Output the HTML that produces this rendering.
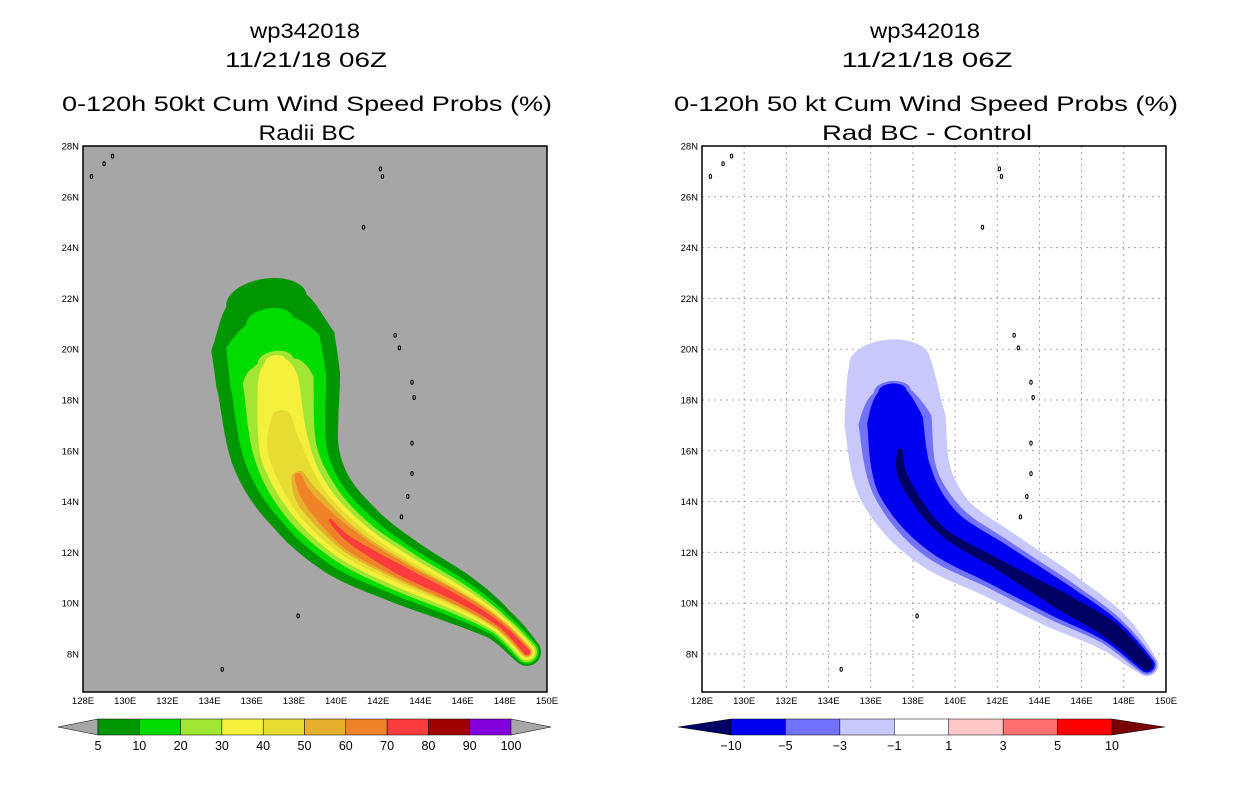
<!DOCTYPE html>
<html><head><meta charset="utf-8"><style>
body{margin:0;background:#fff}
svg{display:block;font-family:"Liberation Sans",sans-serif}
</style></head><body>
<svg id="s" width="1236" height="800" viewBox="0 0 1236 800"></svg>
<script>
// ---- data ----
const leftTrackLon=[136.7,137.0,137.25,137.58,138.76,140.66,143.03,145.88,147.77,149.05];
const leftTrackLat=[21.9,20.3,18.79,16.03,14.06,12.49,11.31,10.13,9.14,8.08];
const prob5=[1.6,2.45,2.45,2.15,1.8,1.6,1.3,1.0,0.67,0.55];
const prob10=[0,1.85,1.9,1.65,1.4,1.25,1.0,0.75,0.5,0.47];
const prob20=[0,0,1.4,1.25,1.15,1.0,0.83,0.6,0.4,0.4];
const prob30=[0,0,0.8,1.0,0.9,0.83,0.67,0.47,0.32,0.32];
const prob40=[0,0,0,0.7,0.7,0.67,0.5,0.35,0.24,0.24];
const prob50=[0,0,0,0,0.5,0.5,0.4,0.28,0.2,0.2];
const prob60=[0,0,0,0,0.25,0.4,0.32,0.24,0.16,0.16];
const prob70=[0,0,0,0,0,0.12,0.2,0.12,0.08,0.12];
const rightTrackLon=[136.9,137.15,137.6,139.3,142.1,145.0,147.35,149.1];
const rightTrackLat=[19.5,17.2,14.85,12.9,11.5,10.1,8.94,7.57];
const diff1=[1.6,2.0,1.9,1.6,1.35,1.15,0.85,0.45];
const diff3=[0,1.45,1.35,1.2,1.0,0.85,0.6,0.38];
const diff5=[0,1.1,1.15,0.95,0.82,0.68,0.48,0.3];
const diff10=[0,0,0.2,0.15,0.2,0.35,0.35,0.22];
const lonTicks=[128,130,132,134,136,138,140,142,144,146,148,150];
const latTicks=[8,10,12,14,16,18,20,22,24,26,28];
const leftBarLabels=["5","10","20","30","40","50","60","70","80","90","100"];
const rightBarLabels=["\u221210","\u22125","\u22123","\u22121","1","3","5","10"];

const NS="http://www.w3.org/2000/svg";
const svg=document.getElementById('s');
function mk(tag,attrs,parent){const e=document.createElementNS(NS,tag);for(const k in attrs)e.setAttribute(k,attrs[k]);(parent||svg).appendChild(e);return e;}
const PX=21.09, PY=25.4;
function X(lon,off){return off+83+(lon-128)*PX;}
function Y(lat){return 146+(28-lat)*PY;}

function ribbon(lons0,lats0,hw0,off,color,name,g){
  let a0=hw0.findIndex(v=>v>0), b0=hw0.length-1;
  while(b0>a0 && !(hw0[b0]>0)) b0--;
  let lons=lons0.slice(a0,b0+1), lats=lats0.slice(a0,b0+1), hw=hw0.slice(a0,b0+1);
  if(a0>0){ // taper start half-way toward previous track point
    lons.unshift((lons0[a0-1]+lons0[a0])/2);
    lats.unshift((lats0[a0-1]+lats0[a0])/2);
    hw.unshift(hw0[a0]*0.5);
  }
  const P=lons.map((l,i)=>[X(l,off),Y(lats[i])]);
  const n=P.length, S=10, pts=[], ws=[];
  for(let i=0;i<n-1;i++){
    const p0=P[Math.max(0,i-1)],p1=P[i],p2=P[i+1],p3=P[Math.min(n-1,i+2)];
    for(let k=0;k<S;k++){
      const t=k/S,t2=t*t,t3=t2*t;
      const f=(a,b,c,d)=>0.5*(2*b+(-a+c)*t+(2*a-5*b+4*c-d)*t2+(-a+3*b-3*c+d)*t3);
      pts.push([f(p0[0],p1[0],p2[0],p3[0]),f(p0[1],p1[1],p2[1],p3[1])]);
      ws.push((hw[i]*(1-t)+hw[i+1]*t)*PY);
    }
  }
  pts.push(P[n-1]);ws.push(hw[n-1]*PY);
  const L=[],R=[];
  for(let i=0;i<pts.length;i++){
    const a=pts[Math.max(0,i-1)],b=pts[Math.min(pts.length-1,i+1)];
    let dx=b[0]-a[0],dy=b[1]-a[1];const m=Math.hypot(dx,dy)||1;dx/=m;dy/=m;
    const w=ws[i];
    L.push([pts[i][0]-dy*w,pts[i][1]+dx*w]);R.push([pts[i][0]+dy*w,pts[i][1]-dx*w]);
  }
  const all=L.concat(R.reverse());
  const p=mk('polygon',{points:all.map(q=>q[0].toFixed(1)+','+q[1].toFixed(1)).join(' '),fill:color},g);
  
  
  const s0=pts[0], s1=pts[1];
  const ang=Math.atan2(s1[1]-s0[1],s1[0]-s0[0])*180/Math.PI;
  const e1=mk('ellipse',{cx:s0[0],cy:s0[1],rx:ws[0]*0.55,ry:ws[0],fill:color,transform:`rotate(${ang} ${s0[0]} ${s0[1]})`},g);
  
  const last=pts[pts.length-1];
  const e2=mk('circle',{cx:last[0],cy:last[1],r:ws[ws.length-1],fill:color},g);
  
}

function panel(off,bg,name){
  const g=mk('g',{});
  
  
  const r=mk('rect',{x:X(128,off),y:146,width:22*PX,height:546,fill:bg},g);
  
  
  const cp=mk('clipPath',{id:'clip'+off},g);
  mk('rect',{x:X(128,off),y:146,width:22*PX,height:546},cp);
  const inner=mk('g',{'clip-path':'url(#clip'+off+')'},g);
  
  
  return [g,inner];
}
function grid(g,off){
  lonTicks.slice(1,-1).forEach(l=>{const e=mk('line',{x1:X(l,off),x2:X(l,off),y1:146,y2:692,stroke:'#a8a8a8','stroke-dasharray':'2,4'},g);
    });
  latTicks.slice(0,-1).forEach(l=>{const e=mk('line',{x1:X(128,off),x2:X(150,off),y1:Y(l),y2:Y(l),stroke:'#a8a8a8','stroke-dasharray':'2,4'},g);
    });
}
function frameAxes(g,off){
  const f=mk('rect',{x:X(128,off),y:146,width:22*PX,height:546,fill:'none',stroke:'#000','stroke-width':1.5},g);
  
  latTicks.forEach(l=>{const t=mk('text',{x:X(128,off)-4,y:Y(l)+3.5,'font-size':9.5,'text-anchor':'end'},g);t.textContent=l+'N';
    });
  lonTicks.forEach(l=>{const t=mk('text',{x:X(l,off),y:704,'font-size':9.5,'text-anchor':'middle'},g);t.textContent=l+'E';
    });
}
function islands(g,off){
  const isl=[[142.8,20.55],[143.0,20.05],[143.6,18.7],[143.7,18.1],[143.6,16.3],[143.6,15.1],[143.4,14.2],[143.1,13.4],[138.2,9.5],[128.4,26.8],[129.0,27.3],[129.4,27.6],[142.1,27.1],[142.2,26.8],[141.3,24.8],[134.6,7.4]];
  isl.forEach(p=>{const e=mk('ellipse',{cx:X(p[0],off),cy:Y(p[1]),rx:1.2,ry:2,fill:'none',stroke:'#000','stroke-width':1},g);
    });
}

// left panel
const [gl,gli]=panel(0,'#a6a6a6','left-map');
[[prob5,'#009600','prob-5'],[prob10,'#00dc00','prob-10'],[prob20,'#a0e632','prob-20'],[prob30,'#f5f03c','prob-30'],[prob40,'#e6dc32','prob-40'],[prob50,'#e6af2d','prob-50'],[prob60,'#f08228','prob-60'],[prob70,'#fa3c3c','prob-70']]
 .forEach(d=>ribbon(leftTrackLon,leftTrackLat,d[0],0,d[1],d[2],gli));
islands(gli,0);frameAxes(gl,0);

// right panel
const [gr,gri]=panel(619,'#ffffff','right-map');
grid(gri,619);
[[diff1,'#c8c8fa','diff-minus1'],[diff3,'#7272ff','diff-minus3'],[diff5,'#0000f0','diff-minus5'],[diff10,'#000064','diff-minus10']]
 .forEach(d=>ribbon(rightTrackLon,rightTrackLat,d[0],619,d[1],d[2],gri));
islands(gri,619);frameAxes(gr,619);

// titles
function title(txt,cx,y,w,name){const t=mk('text',{x:cx,y:y,'font-size':21,'text-anchor':'middle',textLength:w,lengthAdjust:'spacingAndGlyphs'});t.textContent=txt;
  }
title('wp342018',305,38,110,'left-title-storm');
title('11/21/18 06Z',306,67,162,'left-title-date');
title('0-120h 50kt Cum Wind Speed Probs (%)',307,111,490,'left-title-product');
title('Radii BC',307,140,97,'left-title-subtitle');
title('wp342018',925,38,110,'right-title-storm');
title('11/21/18 06Z',927,67,171,'right-title-date');
title('0-120h 50 kt Cum Wind Speed Probs (%)',926,111,504,'right-title-product');
title('Rad BC - Control',927,140,210,'right-title-subtitle');

// colorbars
function colorbar(x0,x1,boxColors,lowC,highC,labels,name){
  const g=mk('g',{});
  const n=boxColors.length, bw=(x1-x0)/n, tw=bw*0.97;
  const lt=mk('polygon',{points:`${x0-tw},727 ${x0},719 ${x0},735`,fill:lowC,stroke:'#000','stroke-width':0.5},g);
  
  boxColors.forEach((c,i)=>{const r=mk('rect',{x:x0+i*bw,y:719,width:bw,height:16,fill:c,stroke:'#000','stroke-width':0.5},g);
    });
  const ht=mk('polygon',{points:`${x1},719 ${x1+tw},727 ${x1},735`,fill:highC,stroke:'#000','stroke-width':0.5},g);
  
  labels.forEach((s,i)=>{const t=mk('text',{x:x0+i*bw,y:750,'font-size':12.5,'text-anchor':'middle'},g);t.textContent=s;
    });
}
colorbar(98,511,['#009600','#00dc00','#a0e632','#f5f03c','#e6dc32','#e6af2d','#f08228','#fa3c3c','#a00000','#8200dc'],'#a6a6a6','#a6a6a6',leftBarLabels,'left-colorbar');
colorbar(731,1112,['#0000f0','#7272ff','#c8c8fa','#ffffff','#ffc8c8','#ff7070','#ff0000'],'#000064','#780000',rightBarLabels,'right-colorbar');
</script>
</body></html>
